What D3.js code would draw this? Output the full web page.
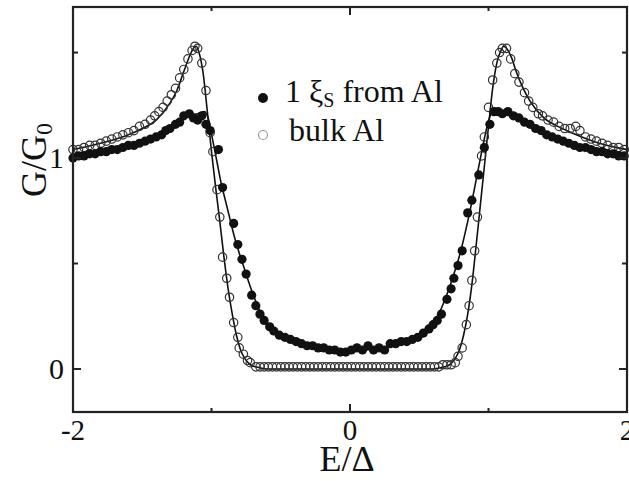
<!DOCTYPE html>
<html>
<head>
<meta charset="utf-8">
<script src="https://cdn.jsdelivr.net/npm/d3@7"></script>
<style>
  body { margin:0; background:#fff; }
  text { font-family:"Liberation Serif","Times New Roman",serif; fill:#111; }
</style>
</head>
<body>
<svg id="chart" width="629" height="481"></svg>
<script>
// tick labels
var xTicks=[-2,0,2];
var xMinor=[-1,1];
var yTicks=[0,1];
var yMinor=[0.5,1.5];

// 1 xi_S from Al (filled circles)
var nearX=[-2.00,-1.96,-1.92,-1.88,-1.84,-1.80,-1.76,-1.72,-1.68,-1.64,-1.60,-1.56,-1.52,-1.48,-1.44,-1.40,
  -1.36,-1.33,-1.30,-1.26,-1.23,-1.20,-1.16,-1.13,-1.10,-1.07,-1.04,-1.01,-0.95,-0.92,-0.84,-0.81,-0.78,-0.75,
  -0.71,-0.68,-0.65,-0.62,-0.58,-0.55,-0.51,-0.47,-0.43,-0.39,-0.35,-0.31,-0.27,-0.23,-0.19,-0.15,-0.11,-0.07,
  -0.03,0.01,0.05,0.09,0.13,0.17,0.21,0.25,0.29,0.33,0.37,0.41,0.45,0.49,0.53,0.57,0.60,0.63,0.66,0.70,0.73,
  0.75,0.78,0.81,0.85,0.88,0.93,0.97,1.01,1.04,1.07,1.10,1.14,1.18,1.22,1.26,1.30,1.34,1.38,1.42,1.46,1.50,
  1.54,1.58,1.62,1.66,1.70,1.74,1.78,1.82,1.86,1.90,1.94,1.98];
var nearY=[1.00,1.01,1.01,1.02,1.02,1.03,1.03,1.04,1.04,1.05,1.06,1.06,1.07,1.08,1.09,1.10,
  1.11,1.13,1.14,1.16,1.17,1.20,1.21,1.19,1.18,1.20,1.16,1.13,1.04,0.86,0.69,0.59,0.52,0.45,
  0.35,0.30,0.26,0.23,0.20,0.18,0.16,0.15,0.14,0.13,0.12,0.11,0.11,0.10,0.10,0.09,0.09,0.08,
  0.08,0.09,0.10,0.09,0.11,0.09,0.10,0.09,0.12,0.12,0.13,0.13,0.14,0.15,0.17,0.19,0.21,0.23,0.26,0.33,0.38,
  0.43,0.49,0.56,0.74,0.80,0.92,1.05,1.16,1.22,1.22,1.21,1.22,1.20,1.19,1.17,1.16,1.14,1.13,1.11,1.10,1.09,
  1.08,1.07,1.06,1.05,1.05,1.04,1.03,1.03,1.02,1.02,1.01,1.01];

// bulk Al (open circles)
var bulkX=[-2.00,-1.96,-1.92,-1.88,-1.84,-1.80,-1.76,-1.72,-1.68,-1.64,-1.60,-1.56,-1.52,-1.48,-1.44,-1.41,
  -1.38,-1.35,-1.32,-1.29,-1.26,-1.23,-1.20,-1.17,-1.14,-1.12,-1.10,-1.07,-1.04,-1.01,-0.99,-0.96,-0.94,-0.92,
  -0.89,-0.87,-0.84,-0.81,-0.80,-0.77,-0.74,-0.72,-0.68,-0.65,-0.62,-0.59,-0.56,-0.53,-0.50,-0.47,-0.44,-0.41,
  -0.38,-0.35,-0.32,-0.29,-0.26,-0.23,-0.20,-0.17,-0.14,-0.11,-0.08,-0.05,-0.02,0.01,0.04,0.07,0.10,0.13,0.16,
  0.19,0.22,0.25,0.28,0.31,0.34,0.37,0.40,0.43,0.46,0.49,0.52,0.55,0.58,0.61,0.64,0.67,0.70,0.73,
  0.76,0.78,0.81,0.84,0.86,0.88,0.90,0.92,0.95,0.97,1.00,1.03,1.06,1.08,1.10,
  1.13,1.16,1.19,1.22,1.26,1.29,1.32,1.36,1.39,1.43,1.47,1.51,1.55,1.59,1.63,1.66,1.70,1.74,1.78,1.82,1.86,
  1.90,1.94,1.98];
var bulkY=[1.04,1.04,1.05,1.06,1.06,1.07,1.08,1.09,1.10,1.11,1.12,1.13,1.15,1.16,1.18,1.20,
  1.22,1.24,1.27,1.30,1.33,1.38,1.42,1.47,1.51,1.53,1.52,1.45,1.32,1.12,1.03,0.85,0.72,0.53,
  0.43,0.34,0.22,0.15,0.10,0.07,0.04,0.03,0.01,0.01,0.01,0.01,0.01,0.01,0.01,0.01,0.01,0.01,
  0.01,0.01,0.01,0.01,0.01,0.01,0.01,0.01,0.01,0.01,0.01,0.01,0.01,0.01,0.01,0.01,0.01,0.01,0.01,
  0.01,0.01,0.01,0.01,0.01,0.01,0.01,0.01,0.01,0.01,0.01,0.01,0.01,0.01,0.01,0.01,0.02,0.02,0.02,
  0.03,0.06,0.10,0.21,0.30,0.42,0.56,0.72,1.01,1.10,1.24,1.37,1.45,1.50,1.52,
  1.52,1.47,1.40,1.36,1.31,1.27,1.24,1.21,1.20,1.18,1.17,1.15,1.14,1.14,1.15,1.13,1.10,1.09,1.08,1.07,1.06,
  1.05,1.05,1.04];

// fit curves
var fitBulkX=[-2,-1.8,-1.6,-1.5,-1.4,-1.3,-1.25,-1.2,-1.16,-1.13,-1.11,-1.09,-1.06,-1.03,-1.0,-0.97,-0.94,
  -0.91,-0.88,-0.85,-0.82,-0.79,-0.76,-0.72,-0.68,-0.6,0.6,0.68,0.72,0.76,0.79,0.82,0.85,0.88,0.91,0.94,0.97,
  1.0,1.03,1.06,1.09,1.11,1.13,1.17,1.2,1.25,1.3,1.4,1.5,1.6,1.8,2.0];
var fitBulkY=[1.04,1.07,1.11,1.14,1.18,1.26,1.32,1.41,1.48,1.52,1.53,1.50,1.40,1.22,1.03,0.86,0.70,
  0.53,0.38,0.26,0.16,0.09,0.05,0.02,0.01,0.0,0.0,0.01,0.02,0.05,0.09,0.16,0.26,0.40,0.58,0.77,0.96,
  1.15,1.33,1.45,1.51,1.53,1.52,1.47,1.41,1.33,1.27,1.19,1.15,1.12,1.07,1.04];
var fitNearX=[-2,-1.8,-1.6,-1.5,-1.4,-1.3,-1.2,-1.1,-1.05,-1.02,-0.99,-0.96,-0.93,-0.9,-0.87,-0.84,-0.8,
  -0.76,-0.72,-0.68,-0.64,-0.6,-0.55,-0.5,-0.4,-0.3,-0.2,-0.1,0,0.1,0.2,0.3,0.4,0.5,0.55,0.6,0.64,0.68,0.72,
  0.76,0.8,0.84,0.87,0.9,0.93,0.96,0.99,1.02,1.05,1.1,1.2,1.3,1.4,1.5,1.6,1.8,2];
var fitNearY=[1.00,1.03,1.05,1.07,1.10,1.14,1.19,1.21,1.22,1.18,1.08,0.98,0.88,0.80,0.72,0.64,0.55,
  0.47,0.39,0.32,0.26,0.22,0.19,0.16,0.13,0.11,0.10,0.09,0.09,0.09,0.10,0.11,0.13,0.16,0.19,0.22,0.26,0.32,0.39,
  0.47,0.56,0.67,0.76,0.86,0.96,1.06,1.15,1.21,1.22,1.21,1.19,1.15,1.11,1.08,1.06,1.03,1.01];

var legendLabels=["1 ξ","S"," from Al","bulk Al"];

var W=629,H=481;
var pLeft=73,pRight=627,pTop=7,pBottom=412;
var svg=d3.select("#chart");

var x=d3.scaleLinear().domain([-2,2]).range([pLeft,pRight]);
var y=d3.scaleLinear().domain([-0.204,1.716]).range([pBottom,pTop]);

function zipPts(a,b){ return a.map(function(v,i){ return {x:v,y:b[i]}; }); }

var line=d3.line()
  .x(function(d){ return x(d.x); })
  .y(function(d){ return y(d.y); })
  .curve(d3.curveMonotoneX);

var plot=svg.append("g");
plot.append("path").attr("d",line(zipPts(fitBulkX,fitBulkY)))
  .attr("fill","none").attr("stroke","#111").attr("stroke-width",1.6);
plot.append("path").attr("d",line(zipPts(fitNearX,fitNearY)))
  .attr("fill","none").attr("stroke","#111").attr("stroke-width",1.6);

plot.selectAll("circle.bulk").data(zipPts(bulkX,bulkY)).enter().append("circle")
  .attr("class","bulk")
  .attr("cx",function(d){ return x(d.x); })
  .attr("cy",function(d){ return y(d.y); })
  .attr("r",4.2)
  .attr("fill","none").attr("stroke","#333").attr("stroke-width",1.2);

plot.selectAll("circle.near").data(zipPts(nearX,nearY)).enter().append("circle")
  .attr("class","near")
  .attr("cx",function(d){ return x(d.x); })
  .attr("cy",function(d){ return y(d.y); })
  .attr("r",4.6)
  .attr("fill","#111");

// frame
svg.append("rect").attr("x",pLeft).attr("y",pTop)
  .attr("width",pRight-pLeft).attr("height",pBottom-pTop)
  .attr("fill","none").attr("stroke","#222").attr("stroke-width",2.2);

// ticks, pointing in
function tickX(vals,len){
  vals.forEach(function(v){
    svg.append("line").attr("x1",x(v)).attr("x2",x(v)).attr("y1",pBottom).attr("y2",pBottom-len)
      .attr("stroke","#222").attr("stroke-width",2);
    svg.append("line").attr("x1",x(v)).attr("x2",x(v)).attr("y1",pTop).attr("y2",pTop+len)
      .attr("stroke","#222").attr("stroke-width",2);
  });
}
function tickY(vals,len){
  vals.forEach(function(v){
    svg.append("line").attr("y1",y(v)).attr("y2",y(v)).attr("x1",pLeft).attr("x2",pLeft+len)
      .attr("stroke","#222").attr("stroke-width",2);
    svg.append("line").attr("y1",y(v)).attr("y2",y(v)).attr("x1",pRight).attr("x2",pRight-len)
      .attr("stroke","#222").attr("stroke-width",2);
  });
}
tickX(xTicks,8); tickX(xMinor,4);
tickY(yTicks,8); tickY(yMinor,5);

svg.selectAll("text.xt").data(xTicks).enter().append("text")
  .attr("x",function(d){ return x(d); }).attr("y",440)
  .attr("text-anchor","middle").attr("font-size",29)
  .text(function(d){ return d; });
svg.selectAll("text.yt").data(yTicks).enter().append("text")
  .attr("x",64).attr("y",function(d){ return y(d)+10; })
  .attr("text-anchor","end").attr("font-size",30)
  .text(function(d){ return d; });

// axis titles
svg.append("text").attr("x",347).attr("y",471).attr("text-anchor","middle")
  .attr("font-size",36).text("E/Δ");
var yl=svg.append("text").attr("transform","translate(46,160) rotate(-90)")
  .attr("text-anchor","middle").attr("font-size",36);
yl.append("tspan").text("G/G");
yl.append("tspan").attr("font-size",24).attr("dy",6).text("0");

// legend
svg.append("circle").attr("cx",263).attr("cy",98).attr("r",5).attr("fill","#111");
svg.append("circle").attr("cx",263).attr("cy",135).attr("r",4.5)
  .attr("fill","none").attr("stroke","#999").attr("stroke-width",1.2);
var l1=svg.append("text").attr("x",285).attr("y",102).attr("font-size",32);
l1.append("tspan").text(legendLabels[0]);
l1.append("tspan").attr("font-size",20).attr("dy",5).text(legendLabels[1]);
l1.append("tspan").attr("dy",-5).text(legendLabels[2]);
svg.append("text").attr("x",289).attr("y",141).attr("font-size",32).text(legendLabels[3]);
</script>
</body>
</html>
